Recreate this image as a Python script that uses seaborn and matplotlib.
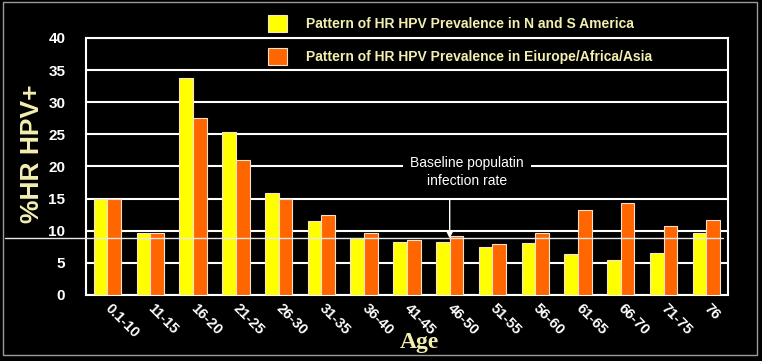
import matplotlib
matplotlib.use("Agg")
import matplotlib.pyplot as plt
import seaborn as sns
import pandas as pd
import numpy as np
from matplotlib.patches import Rectangle

# ---- data ----
age_groups = ["0.1-10", "11-15", "16-20", "21-25", "26-30", "31-35", "36-40",
              "41-45", "46-50", "51-55", "56-60", "61-65", "66-70", "71-75", "76"]
americas = [14.9, 9.7, 33.8, 25.3, 15.8, 11.5, 8.8, 8.3, 8.2, 7.4, 8.1, 6.4, 5.5, 6.5, 9.7]
eur_afr_asia = [14.9, 9.7, 27.5, 21.0, 15.0, 12.5, 9.7, 8.6, 9.1, 8.0, 9.7, 13.2, 14.3, 10.8, 11.7]
series_labels = ["Pattern of HR HPV Prevalence in N and S America",
                 "Pattern of HR HPV Prevalence in Eiurope/Africa/Asia"]
y_ticks = [0, 5, 10, 15, 20, 25, 30, 35, 40]
baseline = 8.8
annotation_text = "Baseline populatin\ninfection rate"
annotation_group = 8  # 46-50
x_label = "Age"
y_label = "%HR HPV+"

df = pd.DataFrame({
    "Age": age_groups * 2,
    "value": americas + eur_afr_asia,
    "Series": [series_labels[0]] * len(age_groups) + [series_labels[1]] * len(age_groups),
})

colors = ["#ffff00", "#ff6600"]
cream = "#f3efb0"

sns.set_style("dark")
plt.rcParams["font.family"] = ["Liberation Sans", "DejaVu Sans"]

fig = plt.figure(figsize=(7.62, 3.61), dpi=100, facecolor="black")
ax = fig.add_axes([0.113, 0.183, 0.842, 0.712])
ax.set_facecolor("black")

sns.barplot(data=df, x="Age", y="value", hue="Series", hue_order=series_labels,
            palette=colors, width=0.64, gap=0, edgecolor="#f6e2cf", linewidth=0.8,
            saturation=1, ax=ax, legend=False, zorder=3)

ax.set_xlim(-0.5, len(age_groups) - 0.5)
ax.set_ylim(0, 40)
ax.set_yticks(y_ticks)
ax.set_yticklabels([str(t) for t in y_ticks], color="white", fontsize=11, fontweight="bold")
ax.yaxis.grid(True, color="white", linewidth=1.5, zorder=0)
ax.xaxis.grid(False)
ax.set_axisbelow(True)
ax.tick_params(axis="y", length=5, width=1.5, color="white", pad=10, direction="out")

# x ticks: labels at centers, tick marks at group boundaries
ax.set_xticks(np.arange(len(age_groups)))
ax.set_xticklabels(age_groups, rotation=-45, ha="left", va="center",
                   rotation_mode="anchor", color="white", fontsize=10.5, fontweight="bold")
ax.tick_params(axis="x", which="major", length=0, pad=8)
ax.set_xticks(np.arange(len(age_groups) + 1) - 0.5, minor=True)
ax.tick_params(axis="x", which="minor", length=5, width=1.5, color="white", direction="out")

for s in ax.spines.values():
    s.set_color("white")
    s.set_linewidth(1.5)
    s.set_visible(True)

ax.set_xlabel(x_label, family=["Liberation Serif", "DejaVu Serif"], fontweight="bold",
              fontsize=17, color=cream)
ax.xaxis.set_label_coords(0.52, -0.145)
ax.set_ylabel(y_label, fontweight="bold", fontsize=19, color=cream)
ax.yaxis.set_label_coords(-0.066, 0.55)

# baseline line
ax.axhline(baseline, xmin=-0.126, xmax=0.992, color="#e8e8e8", linewidth=1,
           clip_on=False, zorder=4)

# annotation
ax.text(8.4, 19.1, annotation_text, ha="center", va="center", color="white", fontsize=10,
        linespacing=1.35, zorder=5,
        bbox=dict(boxstyle="square,pad=0.5", facecolor="black", edgecolor="none"))
ax.annotate("", xy=(annotation_group, baseline), xytext=(annotation_group, 15),
            arrowprops=dict(arrowstyle="-|>", color="white", lw=1, mutation_scale=10,
                            shrinkA=0, shrinkB=0), zorder=5)

# legend
leg = ax.legend(ax.containers, series_labels, loc="upper left",
                bbox_to_anchor=(268 / 762, 1 - 15 / 361), bbox_transform=fig.transFigure,
                frameon=False, borderpad=0, borderaxespad=0, handlelength=1.35,
                handleheight=1.5, handletextpad=1.35, labelspacing=1.17,
                prop=dict(family=["Liberation Sans", "DejaVu Sans"], weight="bold", size=10))
for t in leg.get_texts():
    t.set_color(cream)

# figure border
fig.patches.append(Rectangle((3 / 762, 6 / 361), 754 / 762, 353 / 361, transform=fig.transFigure,
                             fill=False, edgecolor="#9a9a9a", linewidth=1))

fig.savefig("out.png", dpi=100, facecolor="black")
